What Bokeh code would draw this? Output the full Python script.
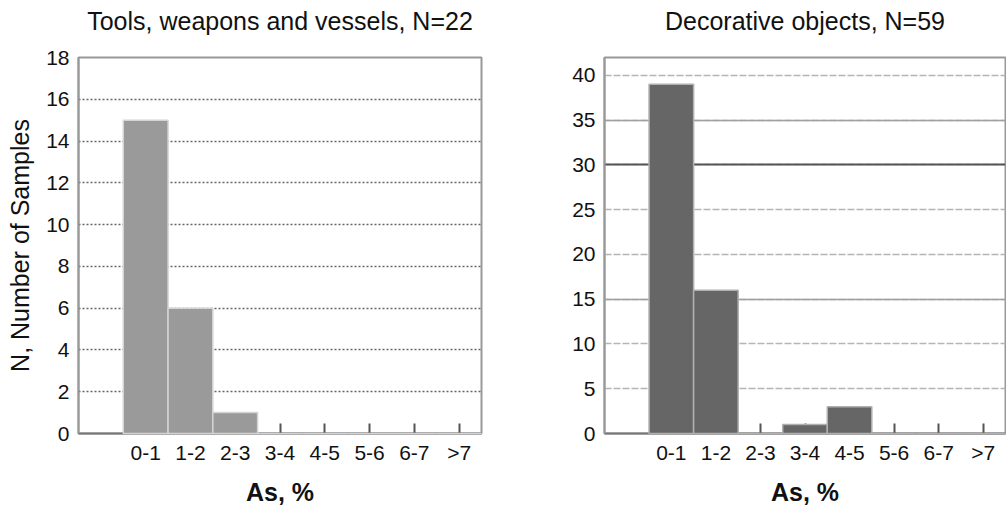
from bokeh.plotting import figure
from bokeh.layouts import row
from bokeh.models import Range1d, FixedTicker, SingleIntervalTicker, Grid, Title
from bokeh.embed import file_html
from bokeh.resources import INLINE

categories = ["0-1", "1-2", "2-3", "3-4", "4-5", "5-6", "6-7", ">7"]
tools_counts = [15, 6, 1, 0, 0, 0, 0, 0]
decor_counts = [39, 16, 0, 1, 3, 0, 0, 0]

FONT = "Liberation Sans"


def make_panel(title, counts, ymax, yinterval, fill, line, width, mb_left, mb_right, ylabel=None):
    positions = [i + 1 for i in range(len(categories))]
    p = figure(width=width, height=508, x_range=Range1d(-0.5, len(categories) + 0.5),
               y_range=Range1d(0, ymax), output_backend="svg", toolbar_location=None,
               min_border_left=mb_left, min_border_right=mb_right,
               min_border_top=57, min_border_bottom=74)
    p.title.text = ""
    p.title.standoff = 0
    # invisible spacer next to the frame, then the real title above it
    p.add_layout(Title(text=" ", text_font_size="1px", standoff=20), "above")
    p.add_layout(Title(text=title, align="center", text_font=FONT, text_font_size="25px",
                       text_font_style="normal", text_color="#111111", standoff=0), "above")

    p.vbar(x=positions, top=counts, width=1.0, fill_color=fill, line_color=line,
           line_width=1.5, level="overlay")

    xa = p.xaxis[0]
    xa.ticker = FixedTicker(ticks=positions)
    xa.major_label_overrides = {pos: c for pos, c in zip(positions, categories)}
    xa.major_tick_in = 10
    xa.major_tick_out = 0
    xa.major_tick_line_color = "#555555"
    xa.major_tick_line_width = 2
    xa.minor_tick_line_color = None
    xa.axis_line_color = "#777777"
    xa.axis_line_width = 2
    xa.major_label_text_font = FONT
    xa.major_label_text_font_size = "21px"
    xa.major_label_text_color = "#111111"
    xa.major_label_standoff = 7
    xa.axis_label = "As, %"
    xa.axis_label_text_font = FONT
    xa.axis_label_text_font_size = "25px"
    xa.axis_label_text_font_style = "bold"
    xa.axis_label_text_color = "#111111"
    xa.axis_label_standoff = 11

    ya = p.yaxis[0]
    ya.ticker = SingleIntervalTicker(interval=yinterval)
    ya.major_tick_in = 0
    ya.major_tick_out = 0
    ya.minor_tick_line_color = None
    ya.axis_line_color = "#999999"
    ya.axis_line_width = 2
    ya.major_label_text_font = FONT
    ya.major_label_text_font_size = "21px"
    ya.major_label_text_color = "#111111"
    ya.major_label_standoff = 5
    if ylabel:
        ya.axis_label = ylabel
        ya.axis_label_text_font = FONT
        ya.axis_label_text_font_size = "25px"
        ya.axis_label_text_font_style = "normal"
        ya.axis_label_text_color = "#111111"
        ya.axis_label_standoff = 9

    p.xgrid.visible = False
    p.outline_line_color = "#999999"
    p.outline_line_width = 2
    p.background_fill_color = "white"
    p.border_fill_color = "white"
    return p


p1 = make_panel("Tools, weapons and vessels, N=22", tools_counts, 18, 2,
                "#9a9a9a", "#d4d4d4", 500, 78, 19, ylabel="N, Number of Samples")
p1.ygrid.grid_line_color = "#666666"
p1.ygrid.grid_line_dash = "2 2"
p1.ygrid.grid_line_width = 1.3

p2 = make_panel("Decorative objects, N=59", decor_counts, 42, 5,
                "#666666", "#b0b0b0", 506, 104, 1)
p2.ygrid.grid_line_color = "#b5b5b5"
p2.ygrid.grid_line_dash = "7 2"
p2.ygrid.grid_line_width = 1.5
p2.add_layout(Grid(dimension=1, ticker=FixedTicker(ticks=[15, 35]),
                   grid_line_color="#a0a0a0", grid_line_width=1.5))
p2.add_layout(Grid(dimension=1, ticker=FixedTicker(ticks=[30]),
                   grid_line_color="#555555", grid_line_width=2))

layout = row(p1, p2)
open("out.html", "w").write(file_html(layout, INLINE))
